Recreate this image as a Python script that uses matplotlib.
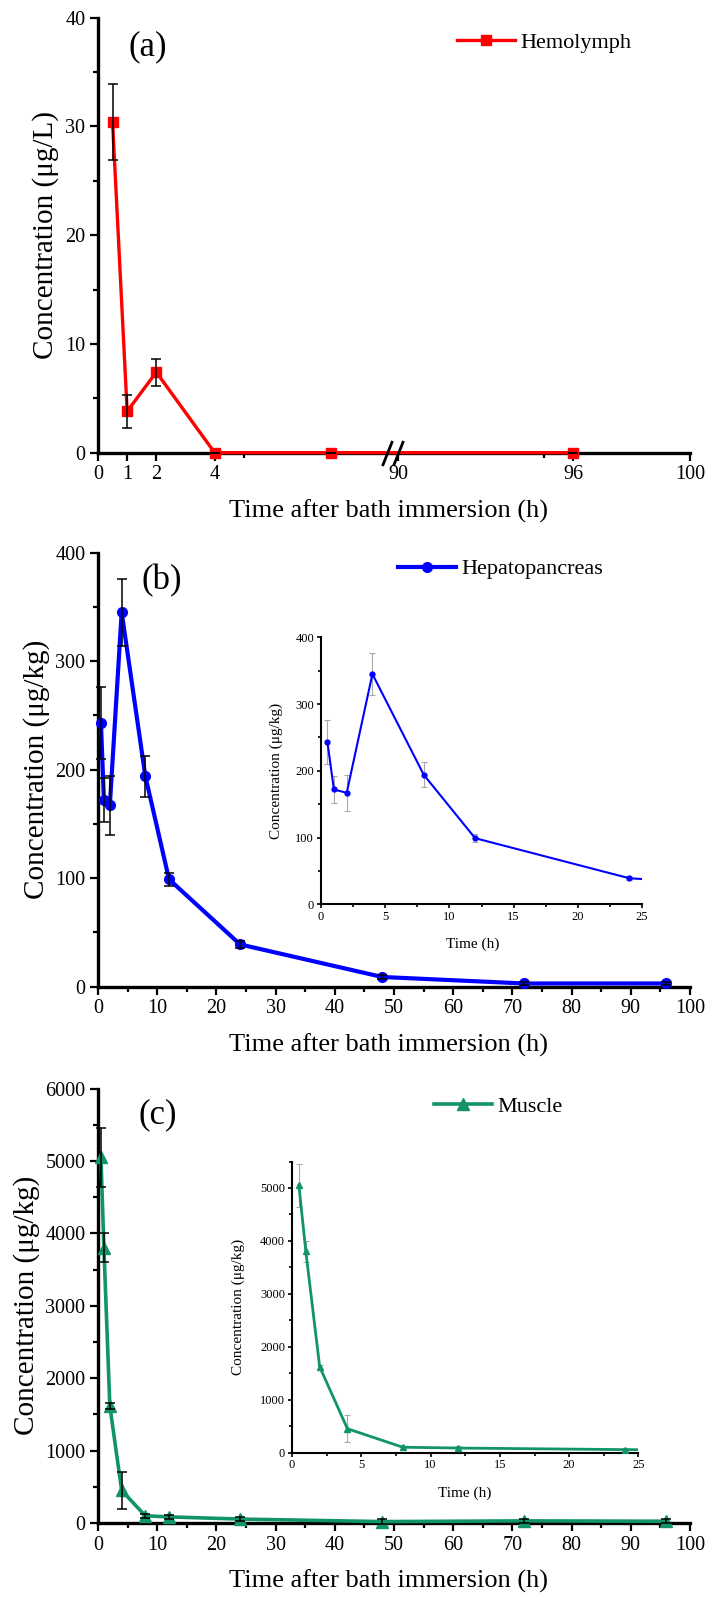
import matplotlib
matplotlib.use("Agg")
import matplotlib.pyplot as plt
import numpy as np
from matplotlib.ticker import FixedLocator, MultipleLocator

plt.rcParams["font.family"] = ["Liberation Serif", "DejaVu Serif"]
plt.rcParams["axes.linewidth"] = 2.4

# ---- data ----
hemo_t = [0.5, 1, 2, 4, 8, 96]
hemo_c = [30.4, 3.8, 7.4, 0.0, 0.0, 0.0]
hemo_err = [3.5, 1.5, 1.25, 0.0, 0.0, 0.0]

hep_t = [0.5, 1, 2, 4, 8, 12, 24, 48, 72, 96]
hep_c = [243, 172, 167, 345, 194, 99, 39, 9, 3, 3]
hep_err = [33, 20, 27, 31, 19, 6, 3, 2, 1, 1]

mus_t = [0.5, 1, 2, 4, 8, 12, 24, 48, 72, 96]
mus_c = [5050, 3800, 1620, 450, 100, 85, 55, 20, 30, 25]
mus_err = [410, 200, 40, 250, 30, 30, 30, 30, 30, 30]

RED = "#ff0000"
BLUE = "#0000ff"
GREEN = "#119467"

# broken x axis for panel (a): 10..90 collapsed into a small gap
LO, HI, GAP = 10.0, 90.0, 0.3


def fwd(x):
    x = np.asarray(x, dtype=float)
    return np.where(x <= LO, x,
                    np.where(x >= HI, x - HI + LO + GAP, LO + (x - LO) / (HI - LO) * GAP))


def inv(y):
    y = np.asarray(y, dtype=float)
    return np.where(y <= LO, y,
                    np.where(y >= LO + GAP, y - LO - GAP + HI, LO + (y - LO) / GAP * (HI - LO)))


def style_main(ax):
    for s in ("top", "right"):
        ax.spines[s].set_visible(False)
    ax.tick_params(which="major", direction="out", length=6, width=1.6, labelsize=14.5, pad=3)
    ax.tick_params(which="minor", direction="out", length=3.5, width=1.6)


def style_inset(ax):
    for s in ("top", "right"):
        ax.spines[s].set_visible(False)
    for s in ("left", "bottom"):
        ax.spines[s].set_linewidth(1.5)
    ax.tick_params(which="major", direction="out", length=3, width=1.2, labelsize=9, pad=2)
    ax.tick_params(which="minor", direction="out", length=2, width=1.2)


def add_legend(ax, fx, fy):
    ax.legend(loc="center left", bbox_to_anchor=(fx, fy), frameon=False,
              fontsize=16, handlelength=2.6, handletextpad=0.25,
              borderpad=0, borderaxespad=0)


fig = plt.figure(figsize=(7.09, 15.99), dpi=100)

# ---------------- panel (a) ----------------
ax_a = fig.add_axes([0.1382, 0.7169, 0.835, 0.2721])
ax_a.set_xscale("function", functions=(fwd, inv))
ax_a.plot(hemo_t, hemo_c, color=RED, lw=2.4, marker="s", ms=7, clip_on=False,
          zorder=3, label="Hemolymph")
ax_a.errorbar(hemo_t, hemo_c, yerr=hemo_err, fmt="none", ecolor="black",
              elinewidth=1.1, capsize=3.6, capthick=1.1, clip_on=False, zorder=4)
ax_a.set_xlim(0, 100)
ax_a.set_ylim(0, 40)
ax_a.xaxis.set_major_locator(FixedLocator([0, 1, 2, 4, 90, 96, 100]))
ax_a.xaxis.set_minor_locator(FixedLocator([5, 95]))
ax_a.set_xticklabels(["0", "1", "2", "4", "90", "96", "100"])
ax_a.yaxis.set_major_locator(MultipleLocator(10))
ax_a.yaxis.set_minor_locator(MultipleLocator(5))
style_main(ax_a)
# break marks on the x axis
ax_a.plot([9.9, HI], [0, 0], ls="none", marker=[(-0.4, -1), (0.4, 1)], ms=18,
          mfc="none", mec="black", mew=2, clip_on=False, zorder=5)
ax_a.set_ylabel("Concentration (μg/L)", fontsize=21)
ax_a.yaxis.set_label_coords(-0.066, 0.5)
ax_a.set_xlabel("Time after bath immersion (h)", fontsize=19)
ax_a.xaxis.set_label_coords(0.49, -0.108)
ax_a.text(0.052, 0.932, "(a)", transform=ax_a.transAxes, fontsize=25,
          ha="left", va="center")
add_legend(ax_a, 0.606, 0.9416)

# ---------------- panel (b) ----------------
ax_b = fig.add_axes([0.1382, 0.3829, 0.835, 0.2715])
ax_b.plot(hep_t, hep_c, color=BLUE, lw=3, marker="o", ms=7, clip_on=False,
          zorder=3, label="Hepatopancreas")
ax_b.errorbar(hep_t, hep_c, yerr=hep_err, fmt="none", ecolor="black",
              elinewidth=1.1, capsize=3.6, capthick=1.1, clip_on=False, zorder=4)
ax_b.set_xlim(0, 100)
ax_b.set_ylim(0, 400)
ax_b.xaxis.set_major_locator(MultipleLocator(10))
ax_b.xaxis.set_minor_locator(MultipleLocator(5))
ax_b.yaxis.set_major_locator(MultipleLocator(100))
ax_b.yaxis.set_minor_locator(MultipleLocator(50))
style_main(ax_b)
ax_b.set_ylabel("Concentration (μg/kg)", fontsize=21)
ax_b.yaxis.set_label_coords(-0.081, 0.5)
ax_b.set_xlabel("Time after bath immersion (h)", fontsize=19)
ax_b.xaxis.set_label_coords(0.49, -0.108)
ax_b.text(0.074, 0.9346, "(b)", transform=ax_b.transAxes, fontsize=25,
          ha="left", va="center")
add_legend(ax_b, 0.507, 0.962)

ins_b = fig.add_axes([0.4528, 0.4345, 0.4528, 0.1669])
ins_b.errorbar(hep_t, hep_c, yerr=hep_err, fmt="none", ecolor="#a8a8a8",
               elinewidth=0.8, capsize=2, capthick=0.8, zorder=2)
ins_b.plot(hep_t, hep_c, color=BLUE, lw=1.5, marker="o", ms=3.5, zorder=3)
ins_b.set_xlim(0, 25)
ins_b.set_ylim(0, 400)
ins_b.xaxis.set_major_locator(MultipleLocator(5))
ins_b.xaxis.set_minor_locator(MultipleLocator(2.5))
ins_b.yaxis.set_major_locator(MultipleLocator(100))
ins_b.yaxis.set_minor_locator(MultipleLocator(50))
style_inset(ins_b)
ins_b.set_ylabel("Concentration (μg/kg)", fontsize=11)
ins_b.yaxis.set_label_coords(-0.118, 0.5)
ins_b.set_xlabel("Time (h)", fontsize=11)
ins_b.xaxis.set_label_coords(0.473, -0.125)

# ---------------- panel (c) ----------------
ax_c = fig.add_axes([0.1382, 0.0475, 0.835, 0.2717])
ax_c.plot(mus_t, mus_c, color=GREEN, lw=2.6, marker="^", ms=8, clip_on=False,
          zorder=3, label="Muscle")
ax_c.errorbar(mus_t, mus_c, yerr=mus_err, fmt="none", ecolor="black",
              elinewidth=1.1, capsize=3.6, capthick=1.1, clip_on=False, zorder=4)
ax_c.set_xlim(0, 100)
ax_c.set_ylim(0, 6000)
ax_c.xaxis.set_major_locator(MultipleLocator(10))
ax_c.xaxis.set_minor_locator(MultipleLocator(5))
ax_c.yaxis.set_major_locator(MultipleLocator(1000))
ax_c.yaxis.set_minor_locator(MultipleLocator(500))
style_main(ax_c)
ax_c.set_ylabel("Concentration (μg/kg)", fontsize=21)
ax_c.yaxis.set_label_coords(-0.098, 0.5)
ax_c.set_xlabel("Time after bath immersion (h)", fontsize=19)
ax_c.xaxis.set_label_coords(0.49, -0.108)
ax_c.text(0.0676, 0.939, "(c)", transform=ax_c.transAxes, fontsize=25,
          ha="left", va="center")
add_legend(ax_c, 0.5676, 0.9588)

ins_c = fig.add_axes([0.4118, 0.0916, 0.4887, 0.182])
ins_c.errorbar(mus_t, mus_c, yerr=mus_err, fmt="none", ecolor="#a8a8a8",
               elinewidth=0.8, capsize=2, capthick=0.8, zorder=2)
ins_c.plot(mus_t, mus_c, color=GREEN, lw=2, marker="^", ms=4.5, zorder=3)
ins_c.set_xlim(0, 25)
ins_c.set_ylim(0, 5500)
ins_c.xaxis.set_major_locator(MultipleLocator(5))
ins_c.xaxis.set_minor_locator(MultipleLocator(2.5))
ins_c.yaxis.set_major_locator(MultipleLocator(1000))
ins_c.yaxis.set_minor_locator(MultipleLocator(500))
style_inset(ins_c)
ins_c.set_ylabel("Concentration (μg/kg)", fontsize=11)
ins_c.yaxis.set_label_coords(-0.136, 0.5)
ins_c.set_xlabel("Time (h)", fontsize=11)
ins_c.xaxis.set_label_coords(0.499, -0.117)

fig.savefig("out.png", dpi=100)
